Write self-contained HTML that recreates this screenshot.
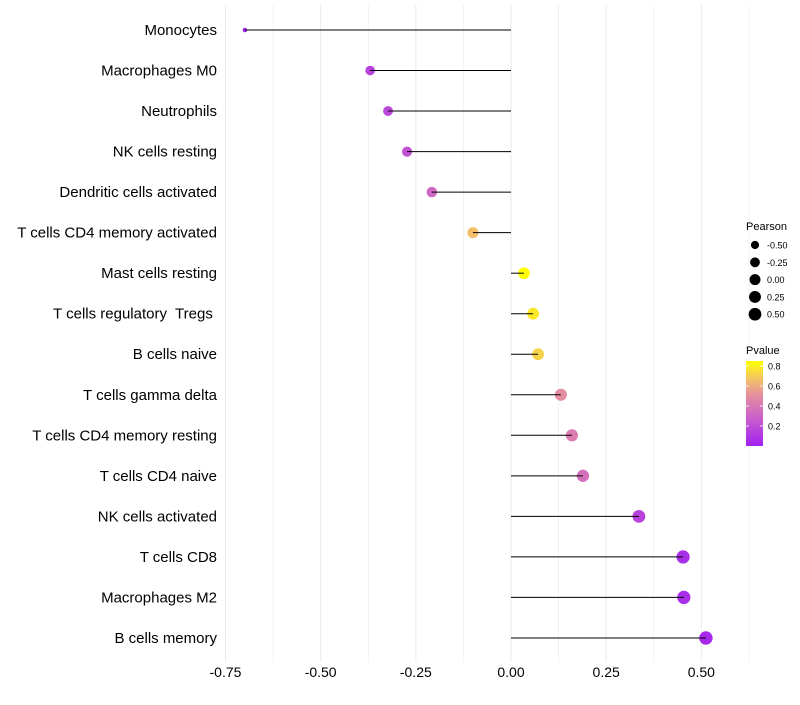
<!DOCTYPE html>
<html><head><meta charset="utf-8"><style>
body{margin:0;background:#fff;font-family:"Liberation Sans",sans-serif}
svg text{font-family:"Liberation Sans",sans-serif;white-space:pre}
</style></head><body>
<svg id="c" width="800" height="700"></svg>
<script>
const categories=["Monocytes","Macrophages M0","Neutrophils","NK cells resting","Dendritic cells activated","T cells CD4 memory activated","Mast cells resting","T cells regulatory  Tregs ","B cells naive","T cells gamma delta","T cells CD4 memory resting","T cells CD4 naive","NK cells activated","T cells CD8","Macrophages M2","B cells memory"];
const pearson=[-0.699,-0.370,-0.323,-0.273,-0.208,-0.10,0.034,0.058,0.071,0.131,0.160,0.189,0.336,0.452,0.454,0.512];
const pvalue=[0.02,0.15,0.17,0.22,0.32,0.66,0.88,0.78,0.72,0.5,0.42,0.36,0.15,0.06,0.06,0.04];
const xTicks=[-0.75,-0.5,-0.25,0,0.25,0.5];
const xTickLabels=["-0.75","-0.50","-0.25","0.00","0.25","0.50"];
const sizeLegend=[-0.5,-0.25,0,0.25,0.5];
const sizeLegendLabels=["-0.50","-0.25","0.00","0.25","0.50"];
const pTicks=[0.2,0.4,0.6,0.8];

const NS="http://www.w3.org/2000/svg",svg=document.getElementById('c');
function el(t,a,p){const e=document.createElementNS(NS,t);for(const k in a)e.setAttribute(k,a[k]);(p||svg).appendChild(e);return e;}
const X=v=>511+v*380.7;
const Y=i=>30+i*40.53;
const R=v=>{const t=Math.max(0,(v+0.7)/1.21);return 2+4.7*Math.pow(t,0.4);};
const stops=[[0,[160,32,240]],[0.3,[205,100,200]],[0.5,[228,140,160]],[0.65,[242,188,112]],[0.85,[255,255,0]]];
function col(p){p=Math.max(0,Math.min(0.85,p));for(let i=1;i<stops.length;i++){if(p<=stops[i][0]){const a=stops[i-1],b=stops[i],t=(p-a[0])/(b[0]-a[0]);return 'rgb('+a[1].map((c,j)=>Math.round(c+(b[1][j]-c)*t)).join(',')+')';}}return 'rgb(255,255,0)';}

for(let v=-0.75;v<=0.626;v+=0.125){
 const g=el('line',{x1:X(v),x2:X(v),y1:5,y2:662,stroke:'#ebebeb','stroke-width':Math.abs((v/0.25)%1)<1e-6?1:0.6});
 
 
}
xTicks.forEach((v,i)=>{
 const t=el('text',{x:X(v),y:677,'text-anchor':'middle','font-size':14,fill:'#000'});
 t.textContent=xTickLabels[i];
 
 
});
categories.forEach((c,i)=>{
 const t=el('text',{x:217,y:Y(i)+5,'text-anchor':'end','font-size':15,fill:'#000'});
 t.textContent=c;
 
 
 const d=el('circle',{cx:X(pearson[i]),cy:Y(i),r:R(pearson[i]),fill:col(pvalue[i])});
 
 
 const l=el('line',{x1:X(0),x2:X(pearson[i]),y1:Y(i),y2:Y(i),stroke:'#000','stroke-width':1});
 
 
});
const st=el('text',{x:746,y:230,'font-size':11,fill:'#000'});st.textContent='Pearson';


sizeLegend.forEach((v,i)=>{
 const y=245+i*17.3;
 const c=el('circle',{cx:755,cy:y,r:R(v)*0.95,fill:'#000'});
 
 
 const t=el('text',{x:767,y:y+3.5,'font-size':9,fill:'#000'});t.textContent=sizeLegendLabels[i];
 
 
});
const ct=el('text',{x:746,y:354,'font-size':11,fill:'#000'});ct.textContent='Pvalue';


const defs=el('defs',{});const lg=el('linearGradient',{id:'pg',x1:0,y1:1,x2:0,y2:0},defs);
for(let k=0;k<=10;k++){el('stop',{offset:k/10,'stop-color':col(0.85*k/10)},lg);}
const cb=el('rect',{x:746,y:361,width:17,height:85,fill:'url(#pg)'});


const PY=p=>446-p*100;
pTicks.forEach(p=>{
 el('line',{x1:746,x2:749,y1:PY(p),y2:PY(p),stroke:'#fff','stroke-width':0.8});
 el('line',{x1:760,x2:763,y1:PY(p),y2:PY(p),stroke:'#fff','stroke-width':0.8});
 const t=el('text',{x:768,y:PY(p)+3.5,'font-size':9,fill:'#000'});t.textContent=p.toFixed(1);
 
 
});
</script>
</body></html>
